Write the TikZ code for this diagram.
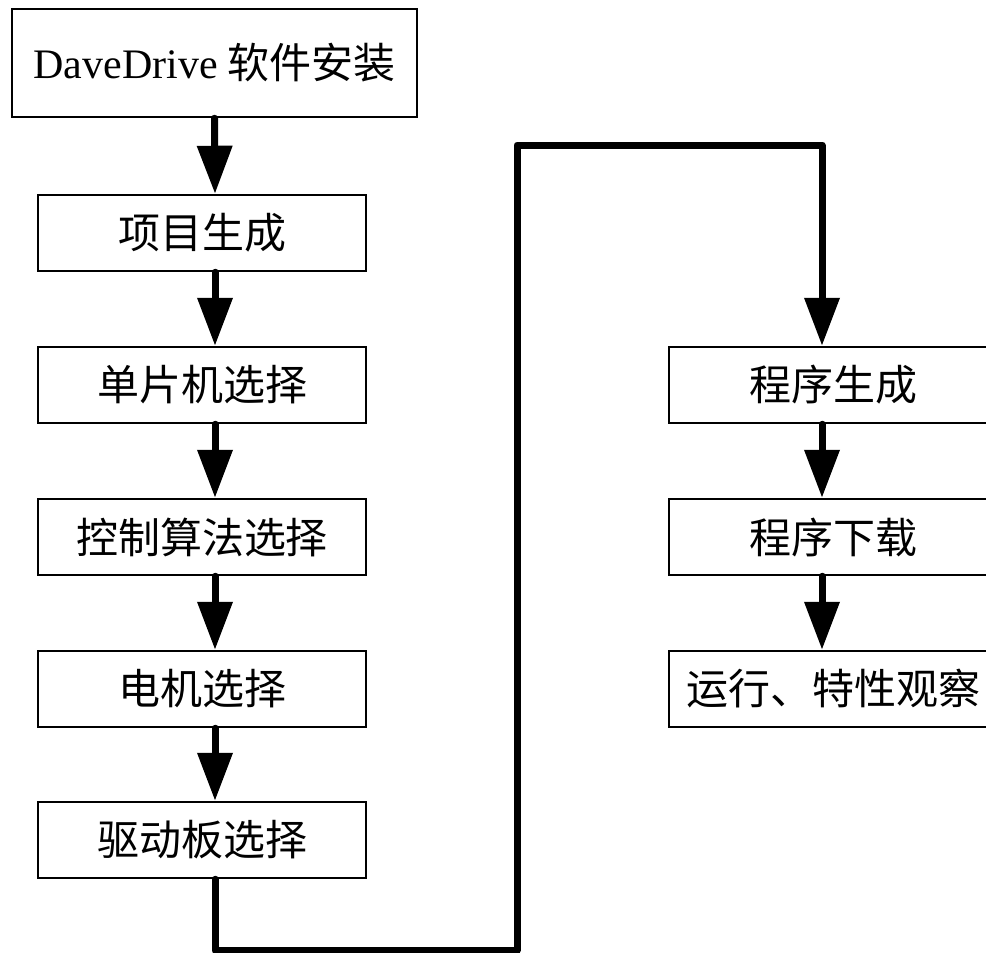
\documentclass[tikz,border=0pt]{standalone}
\usepackage{fontspec}
\setmainfont{Liberation Serif}
\newfontfamily\cjk{Noto Sans CJK SC}
\usetikzlibrary{arrows.meta}

\begin{document}
\begin{tikzpicture}[x=1pt, y=-1pt,
  box/.style={draw, line width=2.5pt, minimum width=328pt, minimum height=76pt, inner sep=0pt,
    font=\fontsize{42pt}{50pt}\selectfont\cjk},
  flow/.style={line width=7pt, line cap=round, line join=round,
    -{Triangle[length=48pt,width=34pt]}}]
\clip (0,0) rectangle (986,953);

\node[box, minimum width=405pt, minimum height=108pt] (A) at (214.5,63) {{\rmfamily DaveDrive} 软件安装};
\node[box] (B) at (202,233) {项目生成};
\node[box] (C) at (202,385) {单片机选择};
\node[box] (D) at (202,537) {控制算法选择};
\node[box] (E) at (202,689) {电机选择};
\node[box] (F) at (202,840) {驱动板选择};

\node[box] (G) at (833,385) {程序生成};
\node[box] (H) at (833,537) {程序下载};
\node[box] (I) at (833,689) {运行、特性观察};

\coordinate (P) at (517,950);
\coordinate (Q) at (517,145);

\draw[flow] (A.south) -- ([xshift=13pt]B.north);
\draw[flow] ([xshift=13pt]B.south) -- ([xshift=13pt]C.north);
\draw[flow] ([xshift=13pt]C.south) -- ([xshift=13pt]D.north);
\draw[flow] ([xshift=13pt]D.south) -- ([xshift=13pt]E.north);
\draw[flow] ([xshift=13pt]E.south) -- ([xshift=13pt]F.north);

\draw[flow] ([xshift=13pt]F.south) |- (P) -- (Q) -| ([xshift=-11pt]G.north);

\draw[flow] ([xshift=-11pt]G.south) -- ([xshift=-11pt]H.north);
\draw[flow] ([xshift=-11pt]H.south) -- ([xshift=-11pt]I.north);
\end{tikzpicture}
\end{document}
